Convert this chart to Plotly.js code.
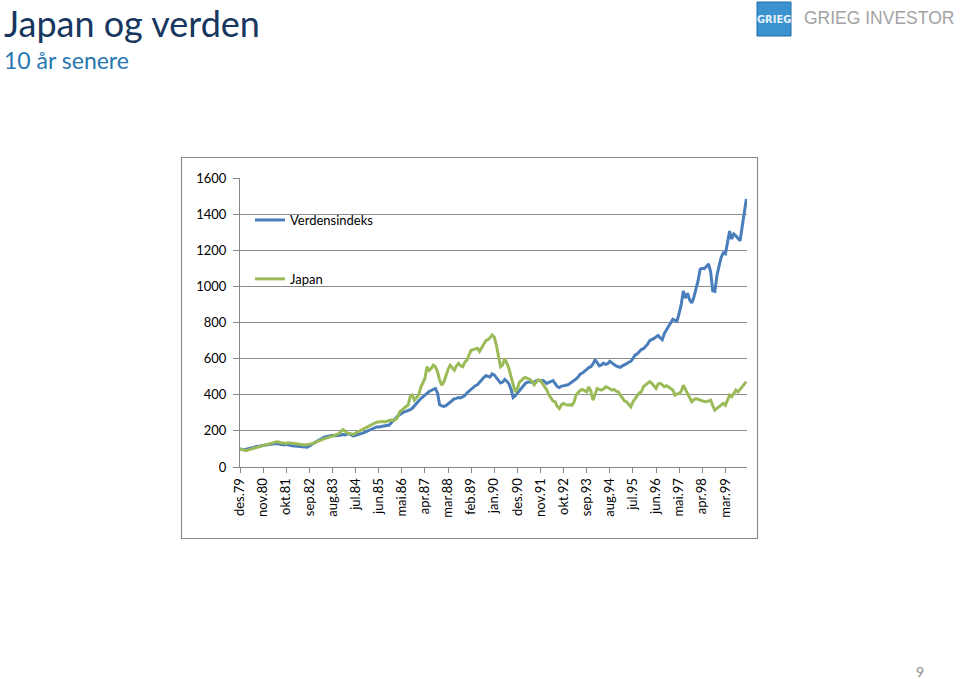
<!DOCTYPE html>
<html>
<head>
<meta charset="utf-8">
<script src="https://cdn.plot.ly/plotly-3.0.1.min.js"></script>
<style>
  html, body { margin: 0; padding: 0; background: #ffffff; }
  #chart { width: 960px; height: 679px; }
</style>
</head>
<body>
<div id="chart"></div>
<script>
// ---- Data (monthly, des.79 .. jan.00) ----
const monthNames = ['jan','feb','mar','apr','mai','jun','jul','aug','sep','okt','nov','des'];
const startYear = 1979, startMonth = 11, nPoints = 242;

const tickLabels = ['des.79','nov.80','okt.81','sep.82','aug.83','jul.84','jun.85','mai.86',
  'apr.87','mar.88','feb.89','jan.90','des.90','nov.91','okt.92','sep.93','aug.94','jul.95',
  'jun.96','mai.97','apr.98','mar.99'];

const verdensindeks = [
  100, 97, 95, 98, 100, 102,
  105, 110, 115, 113, 118, 120,
  122, 124, 122, 126, 128, 130,
  128, 126, 120, 122, 125, 124,
  120, 118, 116, 115, 113, 112,
  111, 112, 110, 116, 122, 130,
  138, 145, 150, 158, 165, 168,
  172, 174, 175, 173, 176, 175,
  177, 180, 178, 183, 186, 178,
  172, 175, 180, 183, 186, 190,
  195, 200, 205, 212, 218, 222,
  222, 224, 228, 226, 228, 232,
  245, 255, 268, 282, 290, 298,
  305, 308, 312, 318, 325, 340,
  355, 365, 378, 390, 400, 408,
  418, 425, 430, 435, 410, 345,
  338, 335, 340, 350, 360, 372,
  378, 380, 385, 382, 390, 395,
  410, 420, 435, 445, 450, 455,
  470, 480, 495, 505, 500, 498,
  515, 510, 495, 480, 465, 470,
  485, 475, 460, 430, 385, 395,
  410, 420, 435, 455, 465, 470,
  472, 468, 470, 478, 480, 476,
  480, 472, 462, 468, 475, 478,
  462, 445, 440, 448, 450, 452,
  455, 462, 470, 478, 488, 500,
  515, 520, 530, 545, 550, 555,
  570, 595, 575, 560, 565, 575,
  568, 572, 585, 575, 568, 560,
  555, 552, 560, 565, 572, 580,
  585, 600, 620, 625, 640, 650,
  655, 668, 680, 700, 705, 712,
  720, 728, 715, 705, 740, 760,
  780, 800, 818, 812, 808, 850,
  900, 975, 935, 962, 925, 908,
  940, 985, 1030, 1095, 1100, 1098,
  1110, 1124, 1080, 975, 972, 1060,
  1113, 1160, 1185, 1180, 1240, 1306,
  1262, 1290, 1280, 1268, 1252, 1330,
  1400, 1484
];

const japan = [
  100, 96, 93, 90, 95, 98,
  102, 106, 111, 110, 114, 118,
  120, 124, 126, 128, 135, 139,
  140, 136, 133, 131, 130, 134,
  132, 134, 130, 126, 124, 122,
  120, 122, 124, 126, 128, 130,
  135, 142, 148, 152, 156, 160,
  163, 165, 168, 175, 180, 185,
  195, 207, 200, 188, 185, 182,
  180, 188, 195, 200, 206, 212,
  218, 225, 232, 238, 242, 248,
  250, 248, 252, 250, 256, 258,
  260, 258, 262, 275, 305, 318,
  325, 335, 342, 390, 398, 370,
  385, 398, 440, 465, 490, 555,
  535, 545, 564, 555, 527, 481,
  453, 470, 509, 540, 564, 550,
  536, 560, 573, 560, 555, 580,
  592, 620, 646, 650, 655, 657,
  640, 660, 686, 700, 705, 715,
  731, 720, 675, 620, 555, 565,
  600, 575, 545, 500, 464, 416,
  434, 470, 480, 492, 495, 492,
  485, 473, 455, 470, 483, 478,
  460, 440, 427, 400, 379, 365,
  361, 335, 324, 345, 352, 345,
  343, 345, 342, 360, 400, 416,
  425, 429, 420, 416, 444, 420,
  370, 400, 435, 430, 426, 432,
  444, 440, 432, 426, 430, 420,
  416, 400, 379, 365, 361, 345,
  333, 360, 379, 398, 410, 416,
  444, 455, 463, 472, 463, 450,
  435, 460, 463, 455, 444, 450,
  444, 435, 426, 398, 405, 407,
  420, 453, 430, 407, 380, 361,
  372, 379, 375, 370, 365, 362,
  361, 365, 370, 340, 315, 325,
  333, 345, 352, 342, 370, 398,
  389, 410, 426, 416, 430, 444,
  455, 472
];

// category labels for each month
const categories = [];
for (let i = 0; i < nPoints; i++) {
  const m = (startMonth + i) % 12;
  const y = (startYear + Math.floor((startMonth + i) / 12)) % 100;
  categories.push(monthNames[m] + '.' + String(y).padStart(2, '0'));
}

// ---- Layout geometry (pixels) ----
const W = 960, H = 679;
const plotL = 240, plotR = 747, plotT = 178, plotB = 467;
const pw = plotR - plotL, ph = plotB - plotT;
const px = v => (v - plotL) / pw;
const py = v => (plotB - v) / ph;

const FONT = 'Lato, "Open Sans", sans-serif';

const traces = [
  {
    x: categories, y: verdensindeks, name: 'Verdensindeks', type: 'scatter', mode: 'lines',
    line: { color: '#4A7EBB', width: 3 }, legendgroup: 'a'
  },
  {
    x: categories, y: japan, name: 'Japan', type: 'scatter', mode: 'lines',
    line: { color: '#9BBB59', width: 3 }, legendgroup: 'b'
  }
];

const layout = {
  width: W, height: H,
  margin: { l: plotL, r: W - plotR, t: plotT, b: H - plotB, pad: 0 },
  paper_bgcolor: '#ffffff', plot_bgcolor: '#ffffff',
  font: { family: FONT, size: 13, color: '#000000' },
  showlegend: true,
  legend: {
    x: px(250), y: py(205), xanchor: 'left', yanchor: 'top',
    bgcolor: 'rgba(0,0,0,0)', tracegroupgap: 39,
    font: { family: FONT, size: 13, color: '#000000' }
  },
  xaxis: {
    type: 'category', range: [0, nPoints - 0.7],
    tickmode: 'array', tickvals: tickLabels, ticktext: tickLabels,
    tickangle: -90, ticks: 'outside', ticklen: 5, tickcolor: '#868686',
    showline: true, linecolor: '#868686', linewidth: 1,
    showgrid: false, zeroline: false,
    tickfont: { family: FONT, size: 13, color: '#000000' },
    fixedrange: true
  },
  yaxis: {
    range: [0, 1600], dtick: 200, tick0: 0,
    ticks: 'outside', ticklen: 6, tickcolor: '#868686',
    showline: true, linecolor: '#868686', linewidth: 1,
    showgrid: true, gridcolor: '#8C8C8C', gridwidth: 1,
    zeroline: false, ticklabelstandoff: 4,
    tickfont: { family: FONT, size: 13, color: '#000000' },
    fixedrange: true
  },
  shapes: [
    // chart frame
    { type: 'rect', xref: 'paper', yref: 'paper', x0: px(181.5), x1: px(757.5), y0: py(538.5), y1: py(157.5),
      line: { color: '#8a8a8a', width: 1.2 }, fillcolor: 'rgba(0,0,0,0)', layer: 'below' },
    // logo square
    { type: 'rect', xref: 'paper', yref: 'paper', x0: px(757), x1: px(791), y0: py(36), y1: py(2),
      line: { color: '#1F6FA8', width: 1 }, fillcolor: '#3A93CF', layer: 'above' }
  ],
  annotations: [
    { text: 'Japan og verden', xref: 'paper', yref: 'paper', x: px(3), y: py(0),
      xanchor: 'left', yanchor: 'top', showarrow: false, borderpad: 0,
      font: { family: FONT, size: 36, color: '#17375E' } },
    { text: '10 år senere', xref: 'paper', yref: 'paper', x: px(2), y: py(44),
      xanchor: 'left', yanchor: 'top', showarrow: false,
      font: { family: FONT, size: 23, color: '#2777B3' } },
    { text: '<b>GRIEG</b>', xref: 'paper', yref: 'paper', x: px(774), y: py(19),
      xanchor: 'center', yanchor: 'middle', showarrow: false,
      font: { family: '"DejaVu Sans Condensed", "DejaVu Sans", sans-serif', size: 11, color: '#e6f3fc' } },
    { text: 'GRIEG INVESTOR', xref: 'paper', yref: 'paper', x: px(802), y: py(18),
      xanchor: 'left', yanchor: 'middle', showarrow: false,
      font: { family: '"Liberation Sans", Arial, sans-serif', size: 17.5, color: '#A3A3A3' } },
    { text: '9', xref: 'paper', yref: 'paper', x: px(920), y: py(671),
      xanchor: 'center', yanchor: 'middle', showarrow: false,
      font: { family: FONT, size: 14, color: '#8C8C8C' } }
  ]
};

Plotly.newPlot('chart', traces, layout, { displayModeBar: false, staticPlot: true });
</script>
</body>
</html>
